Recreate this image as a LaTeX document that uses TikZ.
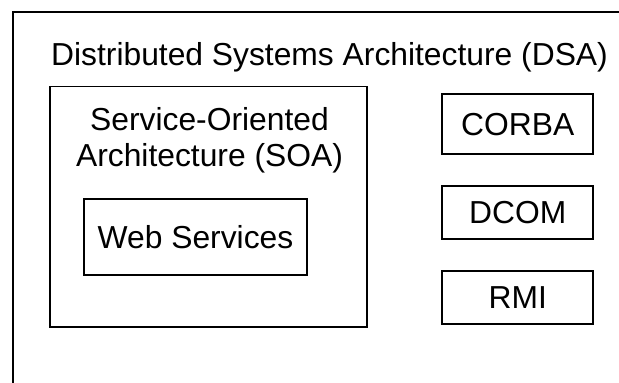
\documentclass[tikz,border=0pt]{standalone}
\usepackage{fontspec}
\setmainfont{Liberation Sans}
\usetikzlibrary{positioning}

\begin{document}
\begin{tikzpicture}[x=1pt,y=-1pt,
    box/.style={draw,line width=1.8pt,inner sep=0pt},
    lbl/.style={font=\fontsize{31.8}{36}\selectfont,align=center},
    tech/.style={box,lbl,minimum width=151.3pt,minimum height=52.7pt}]
    \useasboundingbox (0,0) rectangle (619,383);
    \clip (0,0) rectangle (619,383);
    % outer frame, cut off by the page edge
    \coordinate (fbl) at (12.7,400);
    \coordinate (ftl) at (12.7,11.7);
    \coordinate (ftr) at (640,11.7);
    \draw[line width=1.6pt] (fbl) -- (ftl) -- (ftr);
    \node[lbl,anchor=base] (dsa) at (329.5,65) {Distributed Systems Architecture (DSA)};
    % SOA block
    \node[box,minimum width=317pt,minimum height=240.8pt] (soa) at (208.5,206.9) {};
    \node[lbl,anchor=base] (soatxt) at (209.5,166) {Service-Oriented\\Architecture (SOA)};
    \node[box,lbl,minimum width=223pt,minimum height=75.4pt] (web) at (195.5,237) {Web Services};
    % other middleware
    \node[tech,minimum height=60.3pt] (corba) at (517.7,124.2) {CORBA};
    \node[tech,below=30pt of corba] (dcom) {DCOM};
    \node[tech,below=30.3pt of dcom] (rmi) {RMI};
\end{tikzpicture}
\end{document}
